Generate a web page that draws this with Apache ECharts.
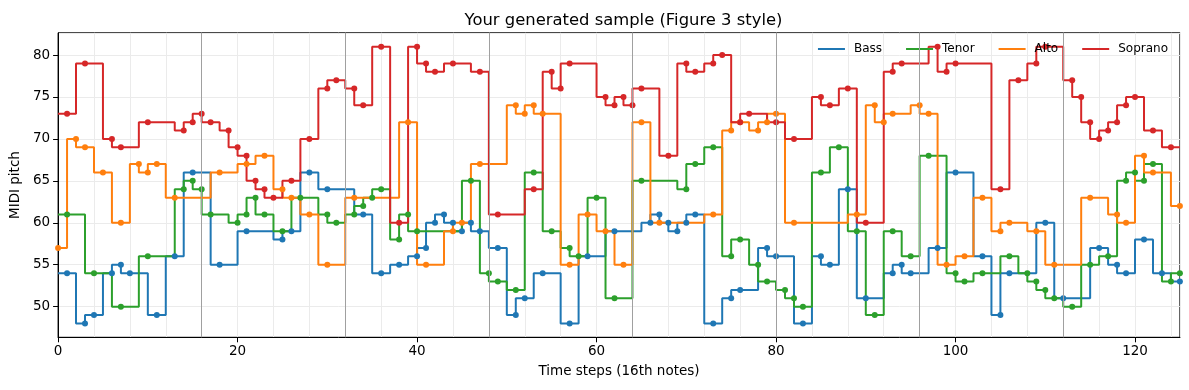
<!DOCTYPE html>
<html><head><meta charset="utf-8">
<script src="https://cdn.jsdelivr.net/npm/echarts/dist/echarts.min.js"></script>
<style>html,body{margin:0;padding:0;background:#fff}#c{width:1189px;height:390px}</style>
</head><body><div id="c"></div>
<script>
// Notes: [onset step, MIDI pitch]
const bassNotes = [[1,54],[3,48],[4,49],[6,54],[7,55],[8,54],[11,49],[13,56],[15,66],[18,55],[21,59],[25,58],[26,59],[28,66],[30,64],[34,61],[36,54],[38,55],[40,56],[41,57],[42,60],[43,61],[44,60],[45,59],[46,60],[47,59],[49,57],[51,49],[52,51],[54,54],[57,48],[59,56],[62,59],[66,60],[67,61],[68,60],[69,59],[70,60],[71,61],[73,48],[75,51],[76,52],[79,57],[80,56],[83,48],[85,56],[86,55],[88,64],[90,51],[93,54],[94,55],[95,54],[98,57],[100,66],[103,56],[105,49],[106,54],[110,60],[112,51],[116,57],[118,55],[119,54],[121,58],[123,54],[125,53]];
const tenorNotes = [[1,61],[4,54],[7,50],[10,56],[14,64],[15,65],[16,64],[17,61],[20,60],[21,61],[22,63],[23,61],[25,59],[27,63],[30,61],[31,60],[33,61],[34,62],[35,63],[36,64],[38,58],[39,61],[40,59],[46,65],[48,54],[49,53],[51,52],[53,66],[55,59],[57,57],[58,56],[60,63],[62,51],[65,65],[70,64],[71,67],[73,69],[75,56],[76,58],[78,55],[79,53],[81,52],[82,51],[83,50],[85,66],[87,69],[89,59],[91,49],[93,59],[95,56],[97,68],[100,54],[101,53],[103,54],[106,56],[108,54],[109,53],[110,52],[111,51],[113,50],[115,55],[117,56],[119,65],[120,66],[121,65],[122,67],[124,53],[125,54]];
const altoNotes = [[0,57],[2,70],[3,69],[5,66],[7,60],[9,67],[10,66],[11,67],[13,63],[18,66],[21,67],[23,68],[25,64],[26,63],[28,61],[30,55],[33,63],[39,72],[41,55],[44,59],[45,60],[47,67],[51,74],[52,73],[53,74],[54,73],[57,55],[59,61],[61,59],[63,55],[65,72],[67,60],[73,61],[75,71],[76,72],[78,71],[79,72],[80,73],[82,60],[89,61],[91,74],[92,72],[93,73],[96,74],[97,73],[99,55],[101,56],[103,63],[105,59],[106,60],[109,59],[111,55],[115,63],[118,61],[119,60],[121,68],[122,66],[125,62]];
const sopranoNotes = [[1,73],[3,79],[6,70],[7,69],[10,72],[14,71],[15,72],[16,73],[17,72],[19,71],[20,69],[21,68],[22,65],[23,64],[24,63],[26,65],[28,70],[30,76],[31,77],[33,76],[34,74],[36,81],[38,60],[40,81],[41,79],[42,78],[44,79],[47,78],[49,61],[53,64],[55,78],[56,76],[57,79],[61,75],[62,74],[63,75],[64,74],[65,76],[68,68],[70,79],[71,78],[73,79],[74,80],[76,72],[77,73],[80,72],[82,70],[85,75],[86,74],[88,76],[90,60],[93,78],[94,79],[98,81],[99,78],[100,79],[105,64],[107,77],[109,79],[110,81],[113,77],[114,75],[115,72],[116,70],[117,71],[118,72],[119,74],[120,75],[122,71],[124,69]];
const voiceNames = ['Bass','Tenor','Alto','Soprano'];
const voiceColors = ['#1f77b4','#2ca02c','#ff7f0e','#d62728'];
const barLines = [16,32,48,64,80,96,112];
const numSteps = 126;

function pianoRoll(notes){
  const out = [];
  let k = 0, cur = notes[0][1];
  for (let t = 0; t < numSteps; t++){
    while (k < notes.length && notes[k][0] <= t){ cur = notes[k][1]; k++; }
    out.push([t, cur]);
  }
  return out;
}
const allNotes = [bassNotes, tenorNotes, altoNotes, sopranoNotes];
const FONT = 'DejaVu Sans';
const series = [{
  type:'line', data:[], z:1, silent:true, xAxisIndex:1,
  markLine:{silent:true, symbol:['none','none'], label:{show:false}, animation:false,
    lineStyle:{color:'#a0a0a0', width:1, type:'solid'},
    data: barLines.map(v => ({xAxis:v}))}
}];
allNotes.forEach((notes, i) => {
  series.push({name:voiceNames[i], type:'line', step:'start', xAxisIndex:1, data:pianoRoll(notes),
    showSymbol:false, lineStyle:{width:2, color:voiceColors[i]}, itemStyle:{color:voiceColors[i]}, z:2});
  series.push({name:voiceNames[i], type:'scatter', xAxisIndex:1, data:notes, symbolSize:6,
    itemStyle:{color:voiceColors[i], opacity:1}, z:2});
});
const chart = echarts.init(document.getElementById('c'), null, {renderer:'canvas'});
chart.setOption({
  animation:false,
  color: voiceColors,
  title:{text:'Your generated sample (Figure 3 style)', left:618.5, top:8, textAlign:'center',
    textStyle:{fontFamily:FONT, fontSize:16.4, fontWeight:'normal', color:'#000'}},
  legend:{data:voiceNames, right:21, top:43, padding:0, icon:'rect', itemWidth:27, itemHeight:2, itemGap:24,
    textStyle:{fontFamily:FONT, fontSize:12, color:'#000', padding:[0,0,0,4]}},
  grid:{left:57, right:9.1, top:32.8, bottom:52.7, show:true, borderColor:'#000', borderWidth:1, containLabel:false},
  xAxis:[
    {type:'value', min:0, max:125, interval:4, position:'bottom',
      axisLabel:{show:false}, axisTick:{show:false}, axisLine:{show:false},
      splitLine:{show:true, lineStyle:{color:'#ebebeb', width:1}}},
    {type:'value', min:0, max:125, interval:20, position:'bottom',
      axisLine:{show:true, onZero:false, lineStyle:{color:'#000', width:1}},
      axisTick:{show:true, length:5, lineStyle:{color:'#000'}},
      axisLabel:{showMaxLabel:false, margin:7, fontFamily:FONT, fontSize:13.5, color:'#000'},
      splitLine:{show:false},
      name:'Time steps (16th notes)', nameLocation:'middle', nameGap:27,
      nameTextStyle:{fontFamily:FONT, fontSize:13.5, color:'#000'}}
  ],
  yAxis:{type:'value', min:46.35, max:82.65, splitNumber:7,
    axisLine:{show:true, onZero:false, lineStyle:{color:'#000', width:1}},
    axisTick:{show:true, length:5, lineStyle:{color:'#000'}},
    axisLabel:{showMinLabel:false, showMaxLabel:false, margin:8, fontFamily:FONT, fontSize:13.5, color:'#000'},
    splitLine:{show:true, lineStyle:{color:'#ebebeb', width:1}},
    name:'MIDI pitch', nameLocation:'middle', nameGap:36, nameRotate:90,
    nameTextStyle:{fontFamily:FONT, fontSize:13.5, color:'#000'}},
  series: series
});
</script></body></html>
